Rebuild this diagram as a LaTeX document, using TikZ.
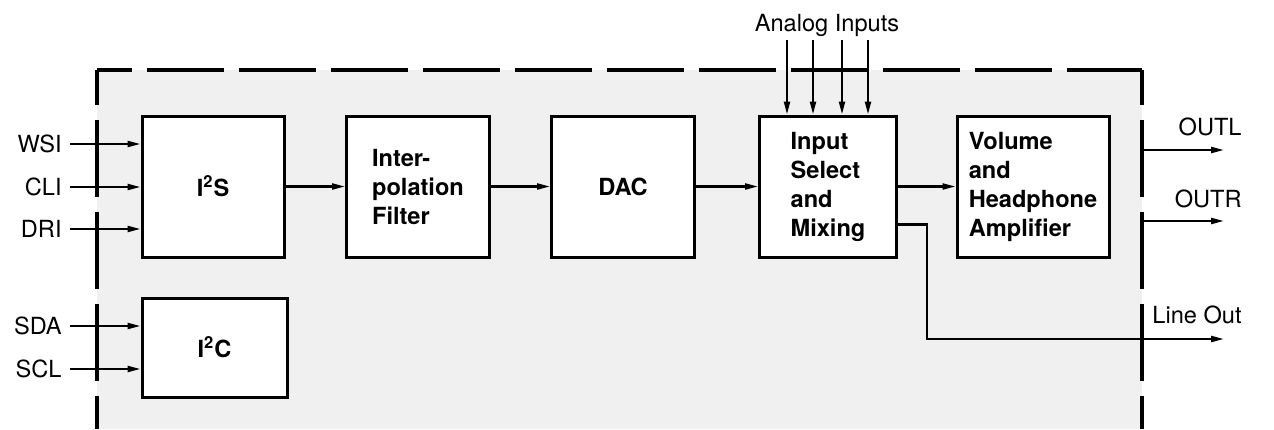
\documentclass[tikz,border=0pt]{standalone}
\usepackage{fontspec}
\setmainfont{TeX Gyre Heros}
\usetikzlibrary{arrows.meta}
\begin{document}
\begin{tikzpicture}[x=0.5pt, y=-0.5pt, node distance=102.5pt,
	block/.style={draw, line width=1.5pt, fill=white, minimum height=70.5pt, inner sep=0pt, align=left, font=\fontsize{11.8}{14.5}\selectfont\bfseries},
	sig/.style={line width=1.1pt, -{Triangle[length=6.5pt, width=3pt]}},
	lbl/.style={inner sep=0pt, font=\fontsize{11.8}{13}\selectfont},
	border/.style={line width=2pt, dash pattern=on 38.5pt off 7.5pt, dash phase=21pt}]
	\useasboundingbox (0,0) rectangle (1274,429);
	\fill[black!6] (97,70) rectangle (1142,429);
	\draw[border] (97,70) -- (97,429);
	\draw[border] (97,70) -- (1142,70);
	\draw[border] (1142,70) -- (1142,429);
	\node (I2S) [block, minimum width=71pt] at (213,186.5) {I\textsuperscript{2}S};
	\node (Filt) [block, minimum width=71.5pt, right of=I2S] {Inter-\\polation\\Filter};
	\node (DAC) [block, minimum width=71.5pt, right of=Filt] {DAC};
	\node (Mix) [block, minimum width=68.5pt, right of=DAC] {Input\\Select\\and\\Mixing};
	\node (Vol) [block, minimum width=76pt, right of=Mix] {Volume\\and\\Headphone\\Amplifier};
	\node (I2C) [block, minimum width=72.5pt, minimum height=49.5pt, below of=I2S, node distance=80.5pt, xshift=0.75pt] {I\textsuperscript{2}C};
	\draw[sig] (I2S) to (Filt);
	\draw[sig] (Filt) to (DAC);
	\draw[sig] (DAC) to (Mix);
	\draw[sig] (Mix) to (Vol);
	% inputs
	\coordinate (WSI) at (70,144);
	\coordinate (CLI) at (70,187);
	\coordinate (DRI) at (70,229);
	\coordinate (SDA) at (70,326);
	\coordinate (SCL) at (70,369);
	\foreach \p in {WSI, CLI, DRI} {
		\node (\p l) [lbl, anchor=east, xshift=-4pt] at (\p) {\p};
		\draw[sig] (\p) to (\p -| I2S.west);
	}
	\foreach \p in {SDA, SCL} {
		\node (\p l) [lbl, anchor=east, xshift=-4pt] at (\p) {\p};
		\draw[sig] (\p) to (\p -| I2C.west);
	}
	% analog inputs
	\node (Ain) [lbl] at (827,25) {Analog Inputs};
	\foreach \x [count=\i] in {787, 813, 842, 868} {
		\coordinate (A\i) at (\x,40);
		\draw[sig] (A\i) to (A\i |- Mix.north);
	}
	% outputs
	\coordinate (OutLs) at (1142,150);
	\coordinate (OutL) at (1224,150);
	\coordinate (OutRs) at (1142,221);
	\coordinate (OutR) at (1224,221);
	\coordinate (LineOut) at (1224,339);
	\draw[sig] (OutLs) to (OutL);
	\draw[sig] (OutRs) to (OutR);
	\draw[sig] ([yshift=-19pt]Mix.east) -- ++(14.5pt,0) |- (LineOut);
	\node (OutLl) [lbl, anchor=base east] at (1242,135) {OUTL};
	\node (OutRl) [lbl, anchor=base east] at (1242,207) {OUTR};
	\node (LineOutl) [lbl, anchor=base east] at (1242,323) {Line Out};
\end{tikzpicture}
\end{document}
